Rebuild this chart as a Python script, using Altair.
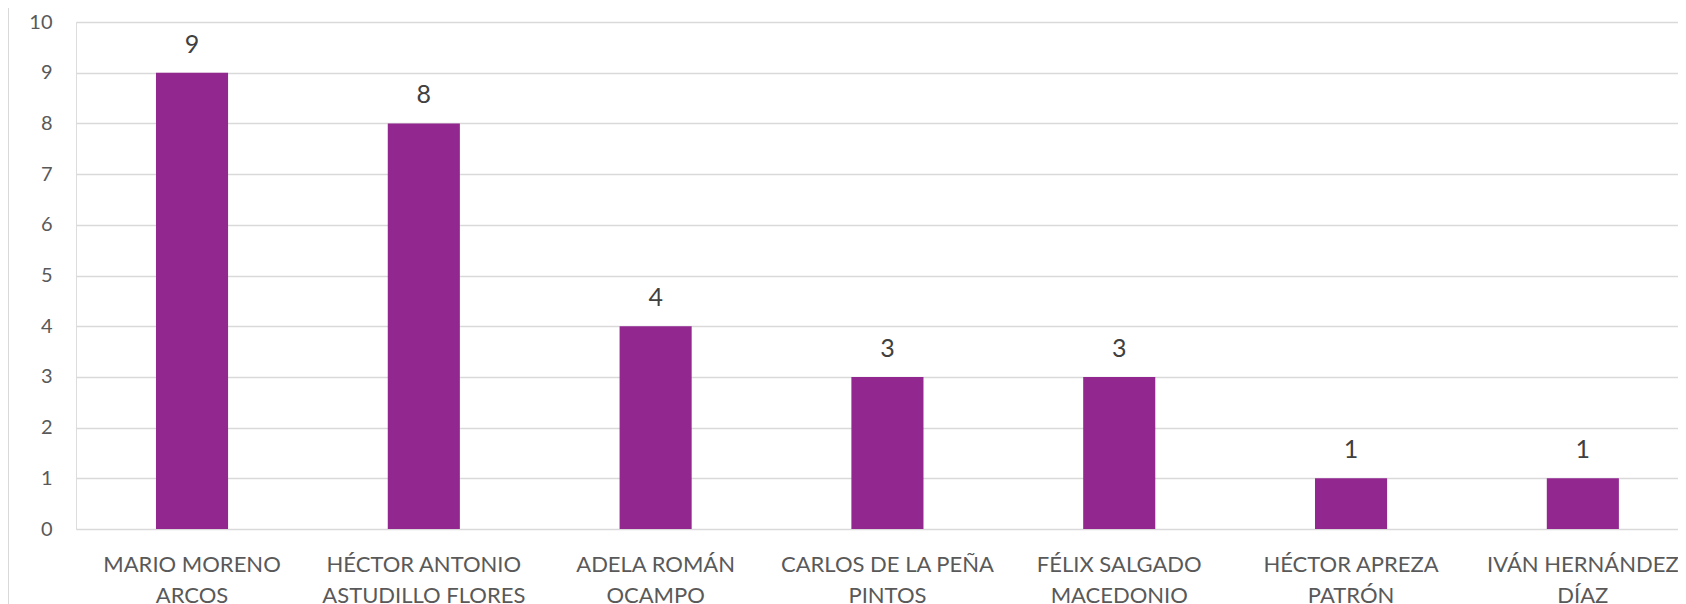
import altair as alt
import pandas as pd

categories = [
    "MARIO MORENO|ARCOS",
    "HÉCTOR ANTONIO|ASTUDILLO FLORES",
    "ADELA ROMÁN|OCAMPO",
    "CARLOS DE LA PEÑA|PINTOS",
    "FÉLIX SALGADO|MACEDONIO",
    "HÉCTOR APREZA|PATRÓN",
    "IVÁN HERNÁNDEZ|DÍAZ",
]
values = [9, 8, 4, 3, 3, 1, 1]
y_ticks = list(range(0, 11))

df = pd.DataFrame({"cat": categories, "val": values})

FONT = "Lato"
BAR = "#92278F"

x = alt.X(
    "cat:N",
    sort=categories,
    title=None,
    scale=alt.Scale(paddingInner=0.689, paddingOuter=0.3, align=0.575),
    axis=alt.Axis(
        labelExpr="split(datum.label, '|')",
        labelAngle=0,
        labelFont=FONT,
        labelFontSize=22,
        labelColor="#595959",
        labelLineHeight=31,
        labelPadding=25,
        labelBaseline="top",
        ticks=False,
        domain=False,
        grid=False,
        labelLimit=400,
    ),
)
y = alt.Y(
    "val:Q",
    title=None,
    scale=alt.Scale(domain=[0, 10], nice=False),
    axis=alt.Axis(
        values=y_ticks,
        labelFont=FONT,
        labelFontSize=20,
        labelColor="#595959",
        labelPadding=24,
        ticks=False,
        domain=False,
        grid=True,
        gridColor="#D9D9D9",
        gridWidth=1.5,
    ),
)

bars = alt.Chart(df).mark_bar(color=BAR).encode(x=x, y=y)
labels = alt.Chart(df).mark_text(
    font=FONT, fontSize=25, color="#404040", baseline="alphabetic", dy=-20
).encode(x=alt.X("cat:N", sort=categories), y="val:Q", text="val:Q")

border = alt.Chart(df).mark_rule(color="#D9D9D9", strokeWidth=1).encode(
    x=alt.value(-67.5), y=alt.value(-14), y2=alt.value(600)
)

chart = (
    alt.layer(border, bars, labels)
    .properties(
        width=1602,
        height=507,
        autosize=alt.AutoSizeParams(type="none"),
        padding={"left": 68, "top": 14, "right": 0, "bottom": 90},
    )
    .configure_view(stroke=None)
    .configure(background="white")
)

chart.save("out.html", embed_options={"renderer": "svg", "actions": False})
